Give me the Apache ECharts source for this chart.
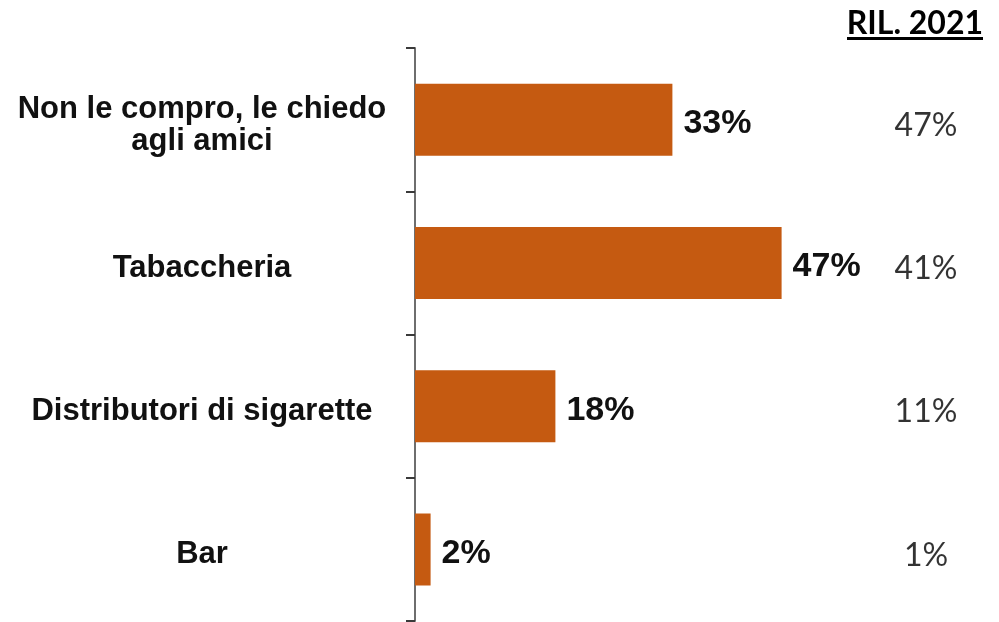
<!DOCTYPE html>
<html>
<head>
<meta charset="utf-8">
<script src="https://cdn.jsdelivr.net/npm/echarts@6/dist/echarts.min.js"></script>
<style>
  html, body { margin: 0; padding: 0; background: #ffffff; }
  #chart { width: 999px; height: 622px; }
</style>
</head>
<body>
<div id="chart"></div>
<script>
// ---- data ----
const categories = ['Non le compro, le chiedo\nagli amici', 'Tabaccheria', 'Distributori di sigarette', 'Bar'];
const values = [33, 47, 18, 2];
const values2021 = [47, 41, 11, 1];
const headerText = 'RIL. 2021';

const chart = echarts.init(document.getElementById('chart'), null, { renderer: 'canvas' });

const labelFont = { fontFamily: 'Liberation Sans, Arial, sans-serif', fontWeight: 'bold', fontSize: 31, color: '#111111' };

const option = {
  backgroundColor: '#ffffff',
  animation: false,
  grid: [
    { left: 415, right: 38, top: 48, bottom: 1, containLabel: false },
    { left: 890, width: 72, top: 48, bottom: 1, containLabel: false }
  ],
  xAxis: [
    { gridIndex: 0, type: 'value', min: 0, max: 70, show: false },
    { gridIndex: 1, type: 'value', min: 0, max: 1, show: false }
  ],
  yAxis: [
    {
      gridIndex: 0,
      type: 'category',
      data: categories,
      inverse: true,
      axisLine: { show: true, lineStyle: { color: '#6e6e6e', width: 2 } },
      axisTick: { show: true, length: 9, lineStyle: { color: '#3a3a3a', width: 2 } },
      axisLabel: {
        margin: 213,
        align: 'center',
        formatter: v => v.split('\n').map((l, i) => (i === 0 ? '{f|' : '{n|') + l + '}').join('\n'),
        rich: {
          f: Object.assign({ lineHeight: 42, verticalAlign: 'bottom', align: 'center' }, labelFont),
          n: Object.assign({ lineHeight: 32, verticalAlign: 'bottom', align: 'center' }, labelFont)
        },
        ...labelFont
      },
      splitLine: { show: false }
    },
    {
      gridIndex: 1,
      type: 'category',
      data: categories,
      inverse: true,
      show: false
    }
  ],
  series: [
    {
      type: 'bar',
      xAxisIndex: 0,
      yAxisIndex: 0,
      data: values,
      barWidth: 72,
      itemStyle: { color: '#C55A11' },
      label: {
        show: true,
        position: 'right',
        distance: 11,
        offset: [0, 4],
        formatter: p => p.value + '%',
        fontFamily: 'Liberation Sans, Arial, sans-serif',
        fontWeight: 'bold',
        fontSize: 34,
        color: '#111111'
      }
    },
    {
      type: 'scatter',
      xAxisIndex: 1,
      yAxisIndex: 1,
      symbolSize: 0,
      itemStyle: { color: '#000000' },
      data: values2021.map((v, i) => [0.5, i, v]),
      label: {
        show: true,
        position: 'inside',
        offset: [0, 6],
        formatter: p => p.value[2] + '%',
        fontFamily: 'Lato, Carlito, sans-serif',
        fontWeight: 'normal',
        fontSize: 32,
        color: '#000000',
        textBorderWidth: 0
      }
    }
  ],
  graphic: [
    {
      type: 'text',
      right: 16,
      top: 8,
      style: {
        text: headerText,
        fontFamily: 'Lato, Carlito, sans-serif',
        fontWeight: 'bold',
        fontSize: 32,
        fill: '#000000'
      }
    },
    {
      type: 'rect',
      right: 16,
      top: 37,
      shape: { width: 136, height: 3 },
      style: { fill: '#000000' }
    }
  ]
};

chart.setOption(option);
</script>
</body>
</html>
